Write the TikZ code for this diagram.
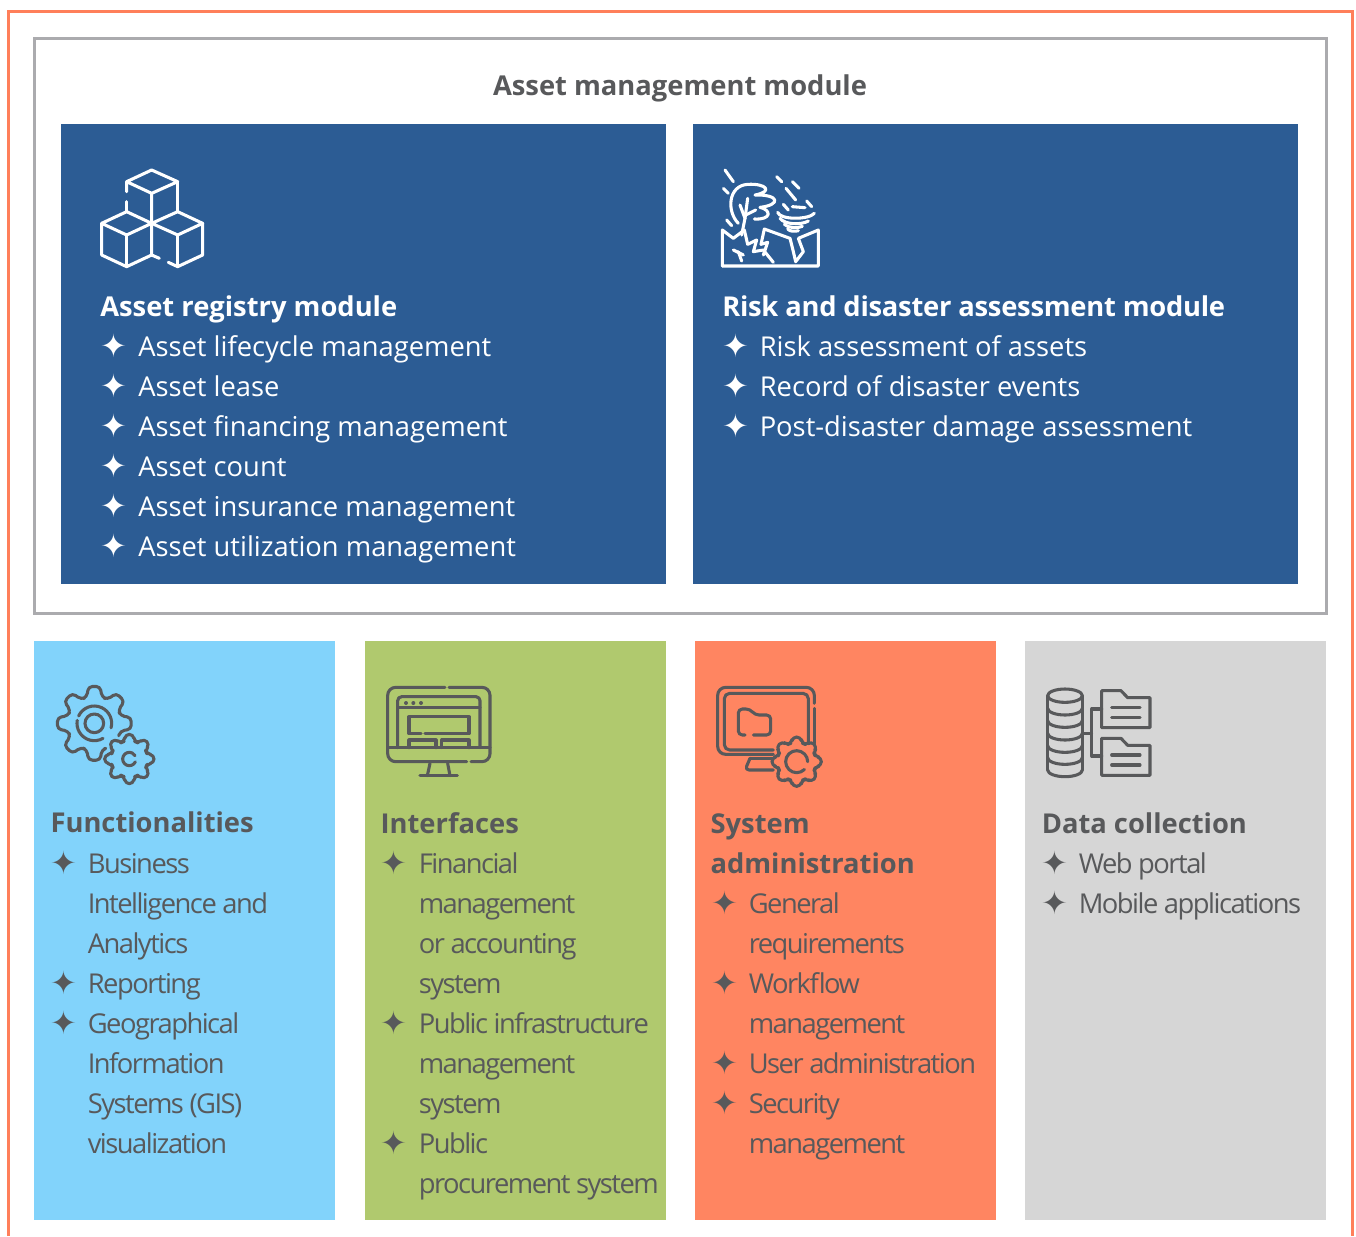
\documentclass[tikz,border=0pt]{standalone}
\usepackage{fontspec}
\usepackage{xcolor}
\setmainfont{Open Sans}
\newfontfamily\starfont{DejaVu Sans}
\usetikzlibrary{positioning}

\definecolor{frameorange}{HTML}{FF7F5A}
\definecolor{framegray}{HTML}{ABABAE}
\definecolor{moduleblue}{HTML}{2C5C94}
\definecolor{skyblue}{HTML}{82D3FB}
\definecolor{leafgreen}{HTML}{B0C96E}
\definecolor{coral}{HTML}{FF8561}
\definecolor{panelgray}{HTML}{D6D6D6}
\definecolor{inkgray}{HTML}{58595B}

\tikzset{
  bigpanel/.style={anchor=north west, inner sep=0pt, minimum width=453.75pt, minimum height=345pt, fill=moduleblue},
  smallpanel/.style={anchor=north west, inner sep=0pt, minimum width=225.75pt, minimum height=434.25pt, fill=#1},
  heading/.style={anchor=base west, inner sep=0pt, font=\fontsize{20.5}{24}\selectfont\bfseries, text=#1},
  rowtext/.style={anchor=base west, inner sep=0pt, font=\fontsize{20.5}{24}\selectfont, text=#1},
  tightrow/.style={anchor=base west, inner sep=0pt, font=\fontsize{20.5}{24}\selectfont\addfontfeature{LetterSpace=-5.5}, text=inkgray},
  starmark/.style={anchor=base, inner sep=0pt, yshift=-1.4pt, font=\fontsize{24}{26}\starfont, text=#1},
  icon/.style={shift={(#1)}, x=.25pt, y=-.25pt, line width=2.3pt, line cap=round, line join=round}
}

% gear outline: centre, valley radius, tip radius, start angle, tooth angles, end angle
\newcommand{\gearoutline}[6]{%
  \begin{scope}[shift={(#1)}]
    \draw[rounded corners=3pt] (#4:#2) \foreach \a in {#5} {
      -- ({\a-16}:#2) -- ({\a-9}:#3) -- ({\a+9}:#3) -- ({\a+16}:#2)} -- (#6:#2);
  \end{scope}}

\begin{document}
\begin{tikzpicture}[x=.75pt, y=-.75pt]
  \useasboundingbox (0,0) rectangle (1356,1236);
  \fill[white] (0,0) rectangle (1356,1236);

  % Frames
  \draw[frameorange, line width=2.25pt] (8,1236) -- (8,11) -- (1352,11) -- (1352,1236);
  \node[draw=framegray, line width=2.25pt, inner sep=0pt, outer sep=0pt, anchor=north west, minimum width=969pt, minimum height=431.25pt] (assetframe) at (34,38) {};
  \node[anchor=base, inner sep=0pt, font=\fontsize{20.5}{24}\selectfont\bfseries, text=inkgray] (assettitle) at (680,95.5) {Asset management module};

  % Upper panels
  \node[bigpanel] (registry) at (61,124) {};
  \node[bigpanel] (risk) at (693,124) {};

  \node[heading=white] (registryhead) at (100,316) {Asset registry module};
  \foreach \y/\t in {356/Asset lifecycle management, 396/Asset lease, 436/Asset financing management, 476/Asset count, 516/Asset insurance management, 556/Asset utilization management} {
    \node[starmark=white] (registrystar\y) at (114,\y) {✦};
    \node[rowtext=white] (registryrow\y) at (138,\y) {\t};
  }

  \node[heading=white, font=\fontsize{20.5}{24}\selectfont\bfseries\addfontfeature{LetterSpace=-0.9}] (riskhead) at (722,316) {Risk and disaster assessment module};
  \foreach \y/\t in {356/Risk assessment of assets, 396/Record of disaster events, 436/Post-disaster damage assessment} {
    \node[starmark=white] (riskstar\y) at (736,\y) {✦};
    \node[rowtext=white] (riskrow\y) at (759.5,\y) {\t};
  }

  % Lower panels
  \node[smallpanel=skyblue] (functions) at (34,641) {};
  \node[smallpanel=leafgreen] (interfaces) at (365,641) {};
  \node[smallpanel=coral] (sysadmin) at (695,641) {};
  \node[smallpanel=panelgray] (datacoll) at (1025,641) {};

  \node[heading=inkgray] (functionshead) at (50.3,832) {Functionalities};
  \foreach \y/\t in {873/Business, 913/Intelligence and, 953/Analytics, 993/Reporting, 1033/Geographical, 1073/Information, 1113/Systems (GIS), 1153/visualization}
    \node[tightrow] (functionsrow\y) at (87.5,\y) {\t};
  \foreach \y in {873,993,1033}
    \node[starmark=inkgray] (functionsstar\y) at (64,\y) {✦};

  \node[heading=inkgray] (interfaceshead) at (380.3,833) {Interfaces};
  \foreach \y/\t in {873/Financial, 913/management, 953/or accounting, 993/system, 1033/Public infrastructure, 1073/management, 1113/system, 1153/Public, 1193/procurement system}
    \node[tightrow] (interfacesrow\y) at (418.5,\y) {\t};
  \foreach \y in {873,1033,1153}
    \node[starmark=inkgray] (interfacesstar\y) at (394,\y) {✦};

  \node[heading=inkgray] (sysadminhead) at (710.3,833) {System};
  \node[heading=inkgray] (sysadminhead2) at (710.3,873) {administration};
  \foreach \y/\t in {913/General, 953/requirements, 993/Workflow, 1033/management, 1073/User administration, 1113/Security, 1153/management}
    \node[tightrow] (sysadminrow\y) at (748.5,\y) {\t};
  \foreach \y in {913,993,1073,1113}
    \node[starmark=inkgray] (sysadminstar\y) at (725,\y) {✦};

  \node[heading=inkgray] (datacollhead) at (1041.5,833) {Data collection};
  \foreach \y/\t in {873/Web portal, 913/Mobile applications}
    \node[tightrow] (datacollrow\y) at (1078.5,\y) {\t};
  \foreach \y in {873,913}
    \node[starmark=inkgray] (datacollstar\y) at (1055,\y) {✦};

  % Cubes
  \begin{scope}[icon={80,150}, white]
    \draw (140,125) -- (140,95) -- (215,60) -- (293,95) -- (215,130) -- (140,95);
    \draw (293,95) -- (293,185);
    \draw (215,130) -- (215,315) -- (238,325);
    \draw (140,155) -- (140,185);
    \draw (140,185) -- (65,220) -- (140,255) -- (215,220) -- cycle;
    \draw (65,220) -- (65,315) -- (140,350) -- (215,315);
    \draw (140,255) -- (140,350);
    \draw (215,220) -- (293,185) -- (368,220) -- (293,255) -- cycle;
    \draw (368,220) -- (368,315) -- (293,350) -- (265,337);
    \draw (293,255) -- (293,350);
  \end{scope}

  % Storm
  \begin{scope}[icon={705,155}, white]
    \draw (52,333) -- (52,225) -- (85,250) -- (118,225) -- (128,268) -- (155,255) -- (145,290) -- (175,285) -- (205,322);
    \draw (168,268) -- (178,222) -- (255,250) -- (265,290) -- (272,320) -- (295,290) -- (280,250) -- (340,225) -- (340,333) -- (52,333);
    \draw (168,268) -- (188,262) -- (175,300);
    \draw (85,285) -- (115,300);
    \draw (100,290) -- (110,318);
    \draw (100,205) .. controls (65,170) and (68,92) .. (128,88) .. controls (185,85) and (205,110) .. (150,120) .. controls (225,118) and (228,150) .. (165,157) .. controls (200,165) and (200,195) .. (148,192);
    \draw (110,240) -- (120,190) -- (105,150);
    \draw (120,190) -- (128,130);
    \draw (122,180) -- (152,165);
    \draw (60,45) -- (85,80);
    \draw (55,100) -- (70,115);
    \draw (65,195) -- (80,212);
    \draw (215,65) -- (230,80);
    \draw (262,80) -- (282,100);
    \draw (243,100) -- (272,135);
    \draw (235,148) -- (250,165);
    \draw (305,138) -- (320,155);
    \draw (262,155) -- (300,158);
    \draw (218,172) .. controls (225,195) and (310,195) .. (328,175);
    \draw (225,190) .. controls (240,210) and (290,210) .. (310,198);
    \draw (238,208) .. controls (250,220) and (280,220) .. (292,214);
    \draw (248,222) .. controls (255,230) and (270,230) .. (280,227);
  \end{scope}

  % Gears
  \begin{scope}[icon={40,675}, inkgray]
    \gearoutline{163,145}{82}{112}{69}{90,135,180,225,270,315,360}{387}
    \draw (163,145) circle[radius=28];
    \draw (163,145) ++(60:52) arc[start angle=60, end angle=190, radius=52];
    \draw (163,145) ++(205:52) arc[start angle=205, end angle=375, radius=52];
    \gearoutline{268,252}{55}{75}{22.5}{45,90,135,180,225,270,315,360}{22.5}
    \draw (268,252) ++(25:20) arc[start angle=25, end angle=330, radius=20];
  \end{scope}

  % Browser monitor
  \begin{scope}[icon={375,675}, inkgray]
    \draw[rounded corners=6pt] (210,37) -- (38,37) -- (38,260) -- (275,260);
    \draw[rounded corners=6pt] (288,260) -- (345,260) -- (345,37) -- (222,37);
    \draw (38,218) -- (345,218);
    \draw (165,265) -- (157,302);
    \draw (218,265) -- (225,302);
    \draw (135,302) -- (247,302);
    \draw[rounded corners=3pt] (68,218) -- (68,65) -- (315,65) -- (315,218);
    \draw (68,98) -- (315,98);
    \foreach \x in {93,115,138}
      \fill (\x,84) circle[radius=6];
    \draw (138,176) -- (102,176) -- (102,125) -- (282,125) -- (282,176) -- (150,176);
    \draw (102,218) -- (102,195) -- (183,195) -- (183,218);
    \draw (200,218) -- (200,195) -- (282,195) -- (282,218);
  \end{scope}

  % Admin monitor
  \begin{scope}[icon={705,675}, inkgray]
    \draw[rounded corners=6pt] (205,238) -- (38,238) -- (38,37) -- (328,37) -- (328,85);
    \draw (328,100) -- (328,205);
    \draw[rounded corners=4pt] (205,225) -- (58,225) -- (58,55) -- (310,55) -- (310,205);
    \draw[rounded corners=3pt] (135,250) -- (120,285) -- (205,285);
    \draw (135,250) -- (205,250);
    \draw[rounded corners=3pt] (120,180) -- (100,180) -- (100,102) -- (135,102) -- (150,120) -- (197,120) -- (197,180) -- (145,180);
    \gearoutline{275,260}{58}{75}{22.5}{45,90,135,180,225,270,315,360}{22.5}
    \draw (275,260) ++(45:33) arc[start angle=45, end angle=360, radius=33];
  \end{scope}

  % Database
  \begin{scope}[icon={1035,675}, inkgray]
    \draw (90,62) ellipse[x radius=52, y radius=20];
    \draw (38,62) -- (38,285);
    \draw (142,62) -- (142,285);
    \foreach \y in {100,137,175,212,248,285}
      \draw (38,\y) arc[start angle=180, end angle=0, x radius=52, y radius=20];
    \draw (143,175) -- (170,175);
    \draw (200,102) -- (170,102) -- (170,243) -- (200,243);
    \foreach \d in {0,143} {
      \draw (200,158+\d) -- (200,47+\d) -- (258,47+\d) -- (278,68+\d) -- (345,68+\d) -- (345,158+\d) -- cycle;
      \draw (230,97+\d) -- (315,97+\d);
      \draw (230,127+\d) -- (315,127+\d);
    }
  \end{scope}
\end{tikzpicture}
\end{document}
